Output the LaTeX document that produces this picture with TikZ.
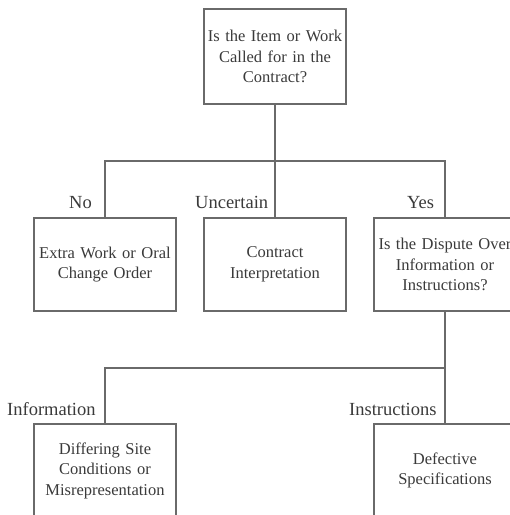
\documentclass[tikz,border=0pt]{standalone}
\usepackage{fontspec}
\setmainfont{Liberation Serif}
\definecolor{linec}{HTML}{6A6A6A}
\definecolor{textc}{HTML}{3A3A3A}
\begin{document}
\begin{tikzpicture}[x=1pt,y=-1pt,
  box/.style={draw=linec, line width=1.3pt, minimum width=142pt, minimum height=93pt,
    text width=138pt, align=center, inner sep=0pt, text=textc,
    font=\fontsize{16.5}{20.5}\selectfont},
  lbl/.style={anchor=base west, inner sep=0pt, text=textc, font=\fontsize{18.5}{22}\selectfont},
  conn/.style={draw=linec, line width=1.3pt}]
\useasboundingbox (0,0) rectangle (510,515);
\clip (0,0) rectangle (510,515);
\node[box, minimum height=95pt] (top) at (275,56.5) {Is the Item or Work\\Called for in the\\Contract?};
\node[box] (b1) at (105,264.5) {Extra Work or Oral\\Change Order};
\node[box] (b2) at (275,264.5) {Contract\\Interpretation};
\node[box] (b3) at (445,264.5) {Is the Dispute Over\\Information or\\Instructions?};
\node[box] (b4) at (105,470.5) {Differing Site\\Conditions or\\Misrepresentation};
\node[box] (b5) at (445,470.5) {Defective\\Specifications};
\coordinate (j1) at (275,161);
\coordinate (j2) at (445,368);
\draw[conn] (top.south) -- (j1);
\draw[conn] (b1.north) |- (j1) -| (b3.north);
\draw[conn] (j1) -- (b2.north);
\draw[conn] (b3.south) -- (j2);
\draw[conn] (b4.north) |- (j2) -- (b5.north);
\node[lbl] (lno) at (69,208) {No};
\node[lbl] (lunc) at (195,208) {Uncertain};
\node[lbl] (lyes) at (407,208) {Yes};
\node[lbl] (linf) at (7,415) {Information};
\node[lbl] (lins) at (349,415) {Instructions};
\end{tikzpicture}
\end{document}
